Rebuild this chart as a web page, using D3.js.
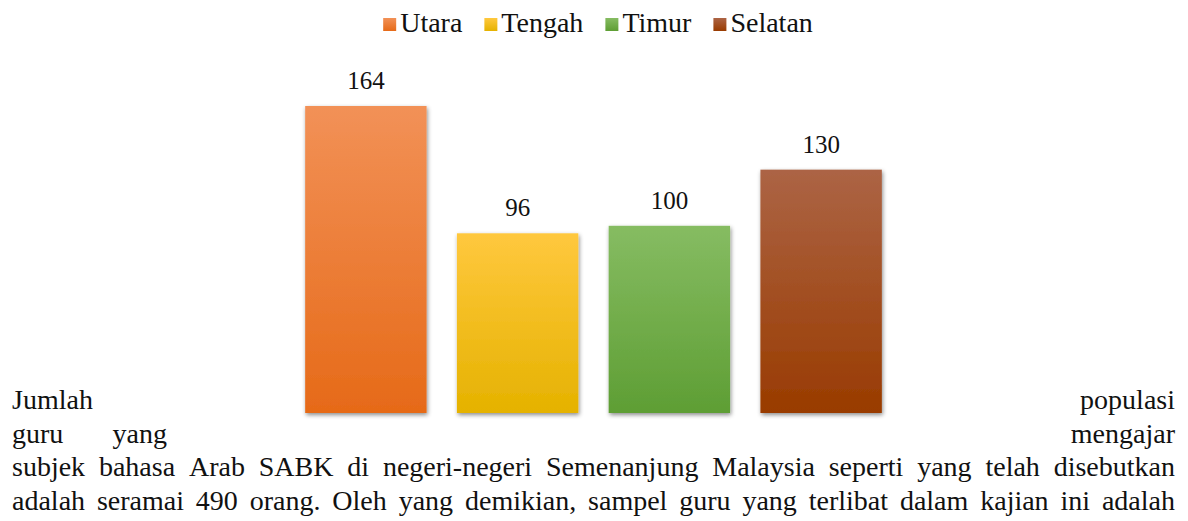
<!DOCTYPE html>
<html>
<head>
<meta charset="utf-8">
<script src="https://cdn.jsdelivr.net/npm/d3@7"></script>
<style>
  html, body { margin: 0; padding: 0; background: #fff; }
  svg { display: block; }
</style>
</head>
<body>
<svg id="chart"></svg>
<script>
// Jumlah guru bahasa Arab SABK mengikut zon
const regions = ["Utara", "Tengah", "Timur", "Selatan"];
const counts = [164, 96, 100, 130];
const colorTop = ["#f29157", "#ffc83e", "#86bc62", "#ac6445"];
const colorBottom = ["#e66a18", "#e5b200", "#5e9e34", "#993b00"];

// paragraph lines (lines 1-2 are split around the chart)
const paraLeft = [["Jumlah"], ["guru", "yang"]];
const paraRight = ["populasi", "mengajar"];
const paraFull = [
  "subjek bahasa Arab SABK di negeri-negeri Semenanjung Malaysia seperti yang telah disebutkan",
  "adalah seramai 490 orang. Oleh yang demikian, sampel guru yang terlibat dalam kajian ini adalah",
];

const FONT = '"Liberation Serif"';
const W = 1188, H = 521;
const svg = d3.select("#chart").attr("width", W).attr("height", H);
const defs = svg.append("defs");

const shadow = defs.append("filter").attr("id", "shadow")
  .attr("x", "-20%").attr("y", "-20%").attr("width", "140%").attr("height", "140%");
shadow.append("feDropShadow")
  .attr("dx", 1).attr("dy", 2).attr("stdDeviation", 2.2)
  .attr("flood-color", "#000").attr("flood-opacity", 0.45);

regions.forEach((r, i) => {
  const lg = defs.append("linearGradient").attr("id", "grad" + i)
    .attr("x1", 0).attr("y1", 0).attr("x2", 0).attr("y2", 1);
  lg.append("stop").attr("offset", "0%").attr("stop-color", colorTop[i]);
  lg.append("stop").attr("offset", "100%").attr("stop-color", colorBottom[i]);
});

// scales
const x = d3.scaleBand().domain(regions).range([290, 897])
  .paddingInner(0.2).paddingOuter(0.1);
const y = d3.scaleLinear().domain([0, 164]).range([413, 106]);

// bars
svg.append("g").selectAll("rect")
  .data(counts)
  .join("rect")
  .attr("x", (d, i) => x(regions[i]))
  .attr("y", (d) => y(d))
  .attr("width", x.bandwidth())
  .attr("height", (d) => y(0) - y(d))
  .attr("fill", (d, i) => `url(#grad${i})`)
  .attr("filter", "url(#shadow)");

// value labels
svg.append("g").selectAll("text")
  .data(counts)
  .join("text")
  .attr("x", (d, i) => x(regions[i]) + x.bandwidth() / 2)
  .attr("y", (d) => y(d) - 17)
  .attr("text-anchor", "middle")
  .style("font-family", FONT)
  .attr("font-size", 25)
  .attr("fill", "#111")
  .text((d) => d);

// legend
const legG = svg.append("g").attr("fill", "#111");
const items = legG.selectAll("g").data(regions).join("g");
items.append("rect")
  .attr("y", 18).attr("width", 13).attr("height", 13)
  .attr("fill", (d, i) => `url(#grad${i})`);
items.append("text").attr("x", 17).attr("y", 32)
  .style("font-family", FONT).attr("font-size", 28)
  .text((d) => d);
let lx = 0;
const legGap = 22;
items.each(function () {
  const g = d3.select(this);
  g.attr("transform", `translate(${lx},0)`);
  lx += 17 + g.select("text").node().getComputedTextLength() + legGap;
});
lx -= legGap;
legG.attr("transform", `translate(${598 - lx / 2},0)`);

// paragraph
const textG = svg.append("g").attr("fill", "#111");
const left = 12, right = 1175;
const baselines = [409, 443, 476, 510];

function addText(word, size) {
  return textG.append("text").style("font-family", FONT).attr("font-size", size).text(word);
}
function measure(word, size) {
  const t = addText(word, size);
  const w = t.node().getComputedTextLength();
  t.remove();
  return w;
}

// pick the largest size where the full lines fit with a minimal word gap
let fs = 28;
while (fs > 16) {
  const ok = paraFull.every((line) => {
    const words = line.split(" ");
    const tot = d3.sum(words, (w) => measure(w, fs)) + (words.length - 1) * fs * 0.15;
    return tot <= right - left;
  });
  if (ok) break;
  fs -= 0.25;
}

function justify(words, x0, x1, yb) {
  const widths = words.map((w) => measure(w, fs));
  const gap = words.length > 1 ? (x1 - x0 - d3.sum(widths)) / (words.length - 1) : 0;
  let cx = x0;
  words.forEach((w, i) => {
    addText(w, fs).attr("x", cx).attr("y", yb);
    cx += widths[i] + gap;
  });
}

// line 1 & 2: left fragment, chart, right fragment
justify(paraLeft[0], left, left, baselines[0]);
justify(paraLeft[1], left, left + 155, baselines[1]);
paraRight.forEach((w, i) => {
  addText(w, fs).attr("x", right).attr("y", baselines[i]).attr("text-anchor", "end");
});
paraFull.forEach((line, i) => justify(line.split(" "), left, right, baselines[i + 2]));
</script>
</body>
</html>
